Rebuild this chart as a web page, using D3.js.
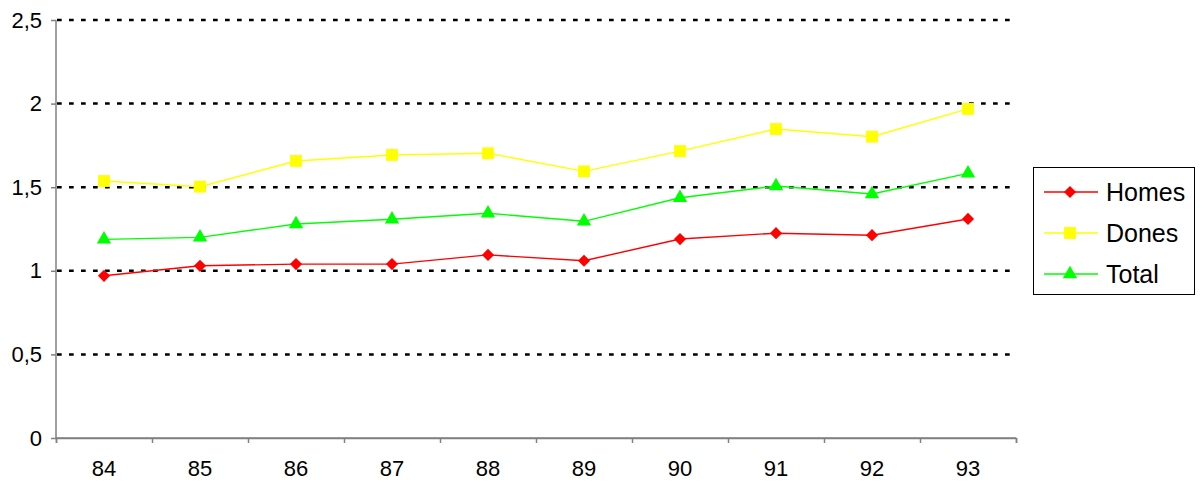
<!DOCTYPE html>
<html>
<head>
<meta charset="utf-8">
<script src="https://cdn.jsdelivr.net/npm/d3@7"></script>
<style>
  body { margin: 0; background: #fff; }
  svg { font-family: "Liberation Sans", Arial, sans-serif; }
</style>
</head>
<body>
<div id="chart"></div>
<script>
// dades
const years = ['84', '85', '86', '87', '88', '89', '90', '91', '92', '93']
const homes = [0.97, 1.03, 1.04, 1.04, 1.095, 1.06, 1.19, 1.225, 1.213, 1.31]
const dones = [1.537, 1.503, 1.657, 1.693, 1.703, 1.595, 1.716, 1.848, 1.802, 1.968]
const total = [1.188, 1.2, 1.28, 1.308, 1.344, 1.296, 1.437, 1.507, 1.459, 1.583]
const yTicks = [0, 0.5, 1, 1.5, 2, 2.5]
const seriesNames = ['Homes', 'Dones', 'Total']

const width = 1202
const height = 481
const plotLeft = 56, plotRight = 1016, plotTop = 20, plotBottom = 438

const series = [
  { name: seriesNames[0], values: homes, color: '#ff0000', symbol: d3.symbolDiamond2, size: 95 },
  { name: seriesNames[1], values: dones, color: '#ffff00', symbol: d3.symbolSquare, size: 140 },
  { name: seriesNames[2], values: total, color: '#00ff00', symbol: d3.symbolTriangle, size: 90 }
]

let xScale = d3.scaleBand(years, [plotLeft, plotRight]).padding(0)
let xEdge = d3.scaleLinear([0, years.length], [plotLeft, plotRight])
let yScale = d3.scaleLinear([0, 2.5], [plotBottom, plotTop])

let svg = d3.select('#chart')
  .append('svg')
  .attr('width', width)
  .attr('height', height)

// línies de la graella
svg.append('g')
  .selectAll('line')
  .data(yTicks.filter(d => d > 0))
  .enter().append('line')
  .attr('x1', plotLeft + 1)
  .attr('x2', plotRight)
  .attr('y1', d => yScale(d))
  .attr('y2', d => yScale(d))
  .attr('stroke', '#000')
  .attr('stroke-width', 2.5)
  .attr('stroke-dasharray', '4.7,7.3')

// eixos
let yAxis = svg.append('g')
  .attr('transform', `translate(${plotLeft},0)`)
  .call(d3.axisLeft(yScale).tickValues(yTicks).tickSize(5).tickPadding(9)
    .tickFormat(d => d3.format('')(d).replace('.', ',')))
let xAxis = svg.append('g')
  .attr('transform', `translate(0,${plotBottom})`)
  .call(d3.axisBottom(xScale).tickSize(0).tickPadding(22))
let xTicks = svg.append('g')
  .attr('transform', `translate(0,${plotBottom})`)
  .call(d3.axisBottom(xEdge).ticks(years.length).tickSize(5).tickFormat(''))

;[yAxis, xAxis, xTicks].forEach(a => {
  a.select('.domain').attr('stroke', '#808080').attr('stroke-width', 1.5)
  a.selectAll('.tick line').attr('stroke', '#808080').attr('stroke-width', 1.5)
  a.selectAll('text').attr('font-size', 22).attr('fill', '#000')
})
xAxis.select('.domain').attr('d', `M${plotLeft},0H${plotRight}`)
yAxis.select('.domain').attr('d', `M0,${plotTop}V${plotBottom}`)

// sèries
let line = d3.line()
  .x((d, i) => xScale(years[i]) + xScale.bandwidth() / 2)
  .y(d => yScale(d))

series.forEach(s => {
  svg.append('path')
    .datum(s.values)
    .attr('d', line)
    .attr('fill', 'none')
    .attr('stroke', s.color)
    .attr('stroke-width', 1.4)
  svg.append('g')
    .selectAll('path')
    .data(s.values)
    .enter().append('path')
    .attr('d', d3.symbol(s.symbol, s.size))
    .attr('transform', (d, i) => `translate(${xScale(years[i]) + xScale.bandwidth() / 2},${yScale(d)})`)
    .attr('fill', s.color)
})

// llegenda
let legend = svg.append('g')
legend.append('rect')
  .attr('x', 1033.5)
  .attr('y', 167.5)
  .attr('width', 161)
  .attr('height', 127)
  .attr('fill', '#fff')
  .attr('stroke', '#000')
  .attr('stroke-width', 1)
series.forEach((s, i) => {
  let ly = 192 + i * 41
  legend.append('line')
    .attr('x1', 1044).attr('x2', 1098)
    .attr('y1', ly).attr('y2', ly)
    .attr('stroke', s.color)
    .attr('stroke-width', 1.4)
  legend.append('path')
    .attr('d', d3.symbol(s.symbol, s.size))
    .attr('transform', `translate(1070,${ly})`)
    .attr('fill', s.color)
  legend.append('text')
    .attr('x', 1106)
    .attr('y', ly)
    .attr('dy', '0.35em')
    .attr('font-size', 25)
    .text(s.name)
})
</script>
</body>
</html>
